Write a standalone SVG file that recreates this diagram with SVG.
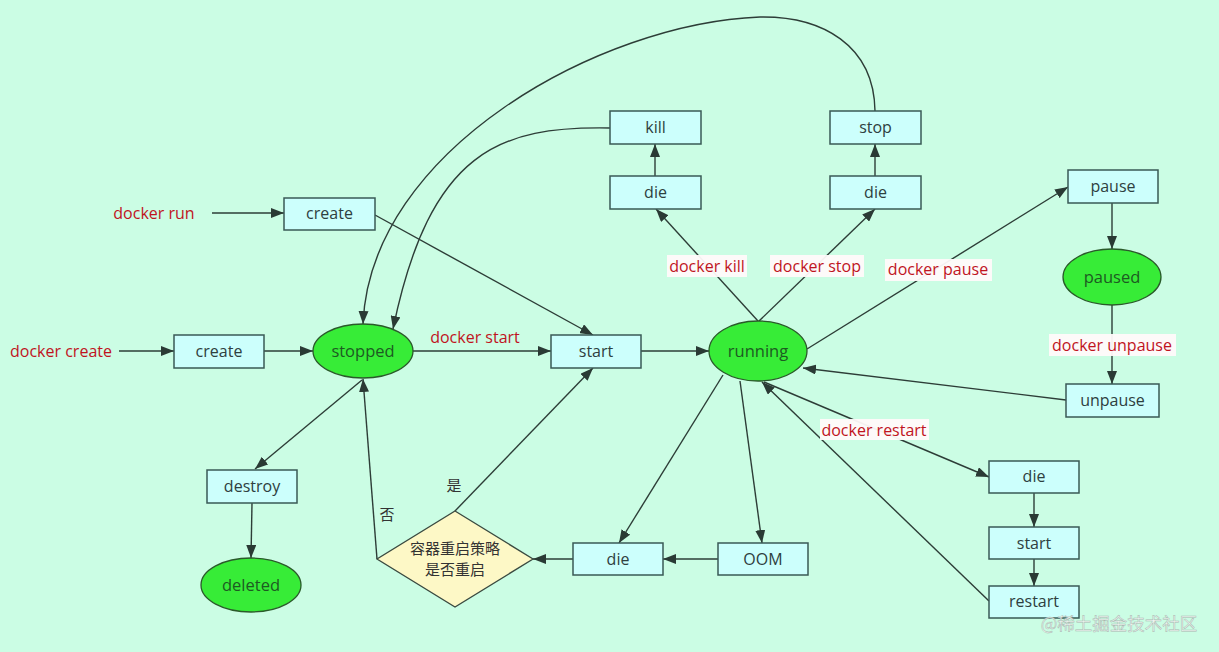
<svg xmlns="http://www.w3.org/2000/svg" width="1219" height="652" viewBox="0 0 1219 652">
<defs>
<marker id="arr" viewBox="0 0 13 10" refX="13" refY="5" markerWidth="13" markerHeight="10" markerUnits="userSpaceOnUse" orient="auto">
<path d="M0,0 L13,5 L0,10 z" fill="#2a3a34"/>
</marker>
<style>
.box{fill:#ccfffc;stroke:#3a5a55;stroke-width:1.5}
.ell{fill:#37ec37;stroke:#2a5a2a;stroke-width:1.3}
.dia{fill:#fdf8c6;stroke:#3a4a40;stroke-width:1.3}
.bt{font-family:"Open Sans","Noto Sans",sans-serif;font-size:16px;fill:#2e4040;text-anchor:middle}
.et{font-family:"Open Sans","Noto Sans",sans-serif;font-size:16.5px;fill:#1d5a22;text-anchor:middle}
.lb{font-family:"Open Sans","Noto Sans",sans-serif;font-size:16px;fill:#c0141e;text-anchor:middle}
.lbg{fill:#fffafa;opacity:0.95}
.cn{font-family:"Noto Sans CJK SC",sans-serif;font-size:15px;fill:#333;text-anchor:middle}
.ln{fill:none;stroke:#2d3d37;stroke-width:1.4;marker-end:url(#arr)}
</style>
</defs>
<rect width="1219" height="652" fill="#cbfde4"/>

<g id="connectors">
<path class="ln" d="M212,213 L284,213"/>
<path class="ln" d="M119,351 L174,351"/>
<path class="ln" d="M264,351 L313,351"/>
<path class="ln" d="M413,351 L551,351"/>
<path class="ln" d="M641,351 L709,351"/>
<path class="ln" d="M375,215 L593,335"/>
<path class="ln" d="M362,380 L255,469"/>
<path class="ln" d="M252,503 L251,558"/>
<path class="ln" d="M377,559 L363,379"/>
<path class="ln" d="M455,511 L593,368"/>
<path class="ln" d="M573,559 L533,559"/>
<path class="ln" d="M718,559 L663,559"/>
<path class="ln" d="M723,375 L619,543"/>
<path class="ln" d="M740,381 L762,543"/>
<path class="ln" d="M758,321 L656,209"/>
<path class="ln" d="M759,321 L875,209"/>
<path class="ln" d="M655,176 L655,144"/>
<path class="ln" d="M875,176 L875,144"/>
<path class="ln" d="M807,349 L1068,187"/>
<path class="ln" d="M1112,203 L1112,249"/>
<path class="ln" d="M1112,305 L1112,384"/>
<path class="ln" d="M1066,400 L803,368"/>
<path class="ln" d="M764,382 L989,477"/>
<path class="ln" d="M1034,493 L1034,527"/>
<path class="ln" d="M1034,559 L1034,586"/>
<path class="ln" d="M989,601 L762,382"/>
<path class="ln" d="M875,111 C874,45 822,16 760,17 C600,23 370,150 363,324"/>
<path class="ln" d="M610,128 C500,126 430,150 393,329"/>
</g>

<g id="edge-labels">
<text class="lb" x="154" y="219">docker run</text>
<text class="lb" x="61" y="357">docker create</text>
<text class="lb" x="475" y="343">docker start</text>
<rect class="lbg" x="667" y="255" width="80" height="22"/>
<text class="lb" x="707" y="272">docker kill</text>
<rect class="lbg" x="770" y="255" width="94" height="22"/>
<text class="lb" x="817" y="272">docker stop</text>
<rect class="lbg" x="885" y="259" width="107" height="22"/>
<text class="lb" x="938" y="275">docker pause</text>
<rect class="lbg" x="1049" y="334" width="127" height="22"/>
<text class="lb" x="1112" y="351">docker unpause</text>
<rect class="lbg" x="820" y="419" width="109" height="21"/>
<text class="lb" x="874" y="436">docker restart</text>
<text class="cn" x="454" y="491">是</text>
<text class="cn" x="387" y="520">否</text>
</g>

<g id="n-create-run"><rect class="box" x="284" y="198" width="91" height="32"/><text class="bt" x="329.5" y="219">create</text></g>
<g id="n-create"><rect class="box" x="174" y="335" width="90" height="33"/><text class="bt" x="219" y="357">create</text></g>
<g id="n-stopped"><ellipse class="ell" cx="363" cy="351" rx="50" ry="27"/><text class="et" x="363" y="357">stopped</text></g>
<g id="n-start"><rect class="box" x="551" y="335" width="90" height="33"/><text class="bt" x="596" y="357">start</text></g>
<g id="n-running"><ellipse class="ell" cx="758" cy="351" rx="49" ry="30"/><text class="et" x="758" y="357">running</text></g>
<g id="n-die-kill"><rect class="box" x="610" y="176" width="91" height="33"/><text class="bt" x="655.5" y="198">die</text></g>
<g id="n-kill"><rect class="box" x="610" y="111" width="91" height="33"/><text class="bt" x="655.5" y="133">kill</text></g>
<g id="n-die-stop"><rect class="box" x="830" y="176" width="91" height="33"/><text class="bt" x="875.5" y="198">die</text></g>
<g id="n-stop"><rect class="box" x="830" y="111" width="91" height="33"/><text class="bt" x="875.5" y="133">stop</text></g>
<g id="n-pause"><rect class="box" x="1068" y="170" width="90" height="33"/><text class="bt" x="1113" y="192">pause</text></g>
<g id="n-paused"><ellipse class="ell" cx="1112" cy="277" rx="49" ry="28"/><text class="et" x="1112" y="283">paused</text></g>
<g id="n-unpause"><rect class="box" x="1066" y="384" width="93" height="33"/><text class="bt" x="1112.5" y="406">unpause</text></g>
<g id="n-die-restart"><rect class="box" x="989" y="461" width="90" height="32"/><text class="bt" x="1034" y="482">die</text></g>
<g id="n-start-restart"><rect class="box" x="989" y="527" width="90" height="32"/><text class="bt" x="1034" y="549">start</text></g>
<g id="n-restart"><rect class="box" x="989" y="586" width="90" height="32"/><text class="bt" x="1034" y="607">restart</text></g>
<g id="n-destroy"><rect class="box" x="207" y="470" width="90" height="33"/><text class="bt" x="252" y="492">destroy</text></g>
<g id="n-deleted"><ellipse class="ell" cx="251" cy="585" rx="50" ry="27"/><text class="et" x="251" y="591">deleted</text></g>
<g id="n-policy"><path class="dia" d="M455,511 L533,559 L455,607 L377,559 Z"/><text class="cn" x="455" y="554">容器重启策略</text><text class="cn" x="455" y="575">是否重启</text></g>
<g id="n-die-oom"><rect class="box" x="573" y="543" width="90" height="32"/><text class="bt" x="618" y="565">die</text></g>
<g id="n-oom"><rect class="box" x="718" y="543" width="90" height="32"/><text class="bt" x="763" y="565">OOM</text></g>

<text x="1119" y="630" style="font-family:'Noto Sans CJK SC',sans-serif;font-size:17.5px;fill:#eef5f1;stroke:#a8b8b0;stroke-width:0.5;text-anchor:middle">@稀土掘金技术社区</text>
</svg>
